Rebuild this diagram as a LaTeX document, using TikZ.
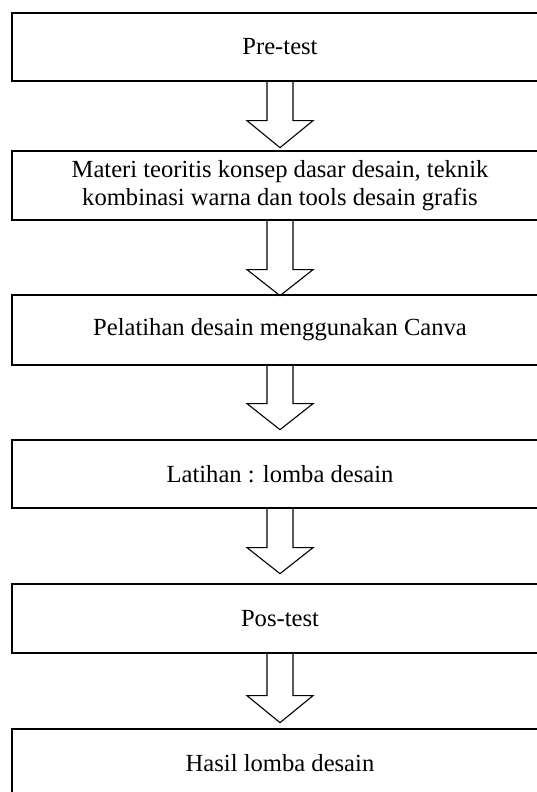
\documentclass[tikz,border=0pt]{standalone}
\usepackage{fontspec}
\setmainfont{Liberation Serif}
\begin{document}
\begin{tikzpicture}[x=1pt,y=1pt,
  stepbox/.style={draw=black, line width=1.3pt, minimum width=536pt, inner sep=0pt,
    align=center, font=\fontsize{24.6}{28.5}\selectfont},
  arrowline/.style={draw=black, line width=1.1pt, line join=miter}]
\useasboundingbox (0,0) rectangle (537,-792);
\clip (0,0) rectangle (537,-792);
\node[stepbox, minimum height=68pt] (b1) at (280,-47) {Pre-test};
\node[stepbox, minimum height=69pt] (b2) at (280,-185.5) {Materi teoritis konsep dasar desain, teknik\\kombinasi warna dan tools desain grafis};
\node[stepbox, minimum height=70pt] (b3) at (280,-330) {Pelatihan desain menggunakan Canva};
\node[stepbox, minimum height=68pt] (b4) at (280,-474) {Latihan : lomba desain};
\node[stepbox, minimum height=69pt] (b5) at (280,-618.5) {Pos-test};
\node[stepbox, minimum height=68pt] (b6) at (280,-763) {Hasil lomba desain};
\newcommand{\hollowarrow}[3]{%
  \draw[arrowline] ([xshift=-13pt]#1.south) -- ++(0,-#2) -- ++(-20,0) -- ++(33,-#3) -- ++(33,#3) -- ++(-20,0) -- ++(0,#2);}
\hollowarrow{b1}{39}{27}
\hollowarrow{b2}{49}{26}
\hollowarrow{b3}{38}{26}
\hollowarrow{b4}{39}{26}
\hollowarrow{b5}{42}{27}
\end{tikzpicture}
\end{document}
